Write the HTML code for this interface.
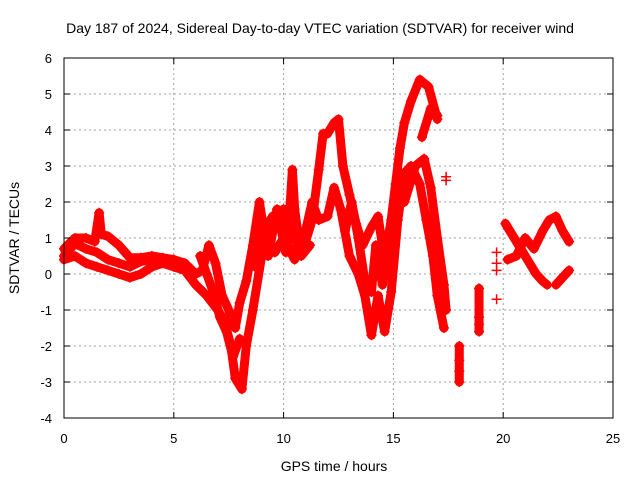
<!DOCTYPE html>
<html><head><meta charset="utf-8"><style>
body{margin:0;background:#fff}
svg{display:block;font-family:"Liberation Sans",sans-serif}
</style></head><body>
<svg id="chart" width="640" height="480" viewBox="0 0 640 480">
<text x="320" y="33" font-size="14" text-anchor="middle">Day 187 of 2024, Sidereal Day-to-day VTEC variation (SDTVAR) for receiver wind</text>
<text x="334" y="471" font-size="14" text-anchor="middle">GPS time / hours</text>
<text x="19" y="238" font-size="14" text-anchor="middle" transform="rotate(-90 19 238)">SDTVAR / TECUs</text>
<g id="grid"></g>
<g id="marks"></g>
<rect x="64" y="58" width="549" height="360" fill="none" stroke="#000" stroke-width="1"/>
<g id="ticks"></g>
</svg>
<script>
const xTicks=[0,5,10,15,20,25];
const yTicks=[-4,-3,-2,-1,0,1,2,3,4,5,6];
const s1=[[0,0.7],[0.5,1.0],[1,1.0],[1.4,0.9],[1.6,1.7],[1.7,1.1],[2,1.05],[2.5,0.8],[3,0.45],[3.5,0.45],[4,0.5],[4.5,0.45],[5,0.4],[5.5,0.3],[6,0.0],[6.3,0.1],[6.6,0.8],[6.9,0.3],[7.2,-0.6],[7.5,-1.0],[7.8,-1.5],[8,-0.8],[8.3,-0.2],[8.6,0.8],[8.9,2.0],[9.1,1.2],[9.5,1.6],[10,1.8],[10.2,1.0],[10.4,2.9],[10.6,0.8],[11,0.9],[11.3,1.5],[11.6,2.9],[11.8,3.9],[12,3.9],[12.3,4.2],[12.5,4.3],[12.7,3.0],[13,2.2],[13.3,1.4],[13.6,0.8],[14,1.3],[14.3,1.6],[14.6,0.4],[14.9,1.5],[15.1,2.5],[15.3,3.5],[15.5,4.2],[15.8,4.8],[16.2,5.4],[16.6,5.2],[17,4.3]];
const s2=[[0,0.4],[0.5,0.5],[1,0.3],[1.5,0.2],[2,0.1],[2.5,0.0],[3,-0.1],[3.5,0.0],[4,0.2],[4.5,0.3],[5,0.2],[5.5,0.1],[6,-0.3],[6.5,-0.6],[7,-1.0],[7.3,-1.3],[7.6,-2.0],[7.8,-2.9],[8.1,-3.2],[8.3,-2.0],[8.6,-1.0],[9,0.5],[9.3,1.0],[9.6,0.6],[10,1.0],[10.5,0.4],[11,1.2],[11.3,2.0],[11.6,1.5],[12,1.6],[12.3,2.4],[12.6,1.8],[13,0.5],[13.4,0.0],[13.7,-0.6],[14,-1.7],[14.3,-0.6],[14.6,-1.6],[14.9,-0.5],[15.2,1.5],[15.5,2.8],[15.8,3.0],[16.2,2.5],[16.5,1.5],[16.8,0.5],[17,-0.6],[17.3,-1.5]];
const s3=[[0,0.5],[0.5,0.85],[1,0.7],[1.5,0.6],[2,0.4],[2.5,0.3],[3,0.2],[3.5,0.35],[4,0.4],[4.5,0.4],[5,0.3]];
const s4=[[15.5,2.0],[16,3.0],[16.4,3.2],[16.7,2.4],[17,1.0],[17.3,-0.3],[17.4,-1.0]];
const s5=[[16.3,3.8],[16.7,4.6],[17,4.4]];
const s6=[[20.1,1.4],[20.5,1.0],[20.9,0.6],[21.2,0.3],[21.5,0.0],[21.8,-0.2],[22.0,-0.3]];
const s7=[[20.2,0.4],[20.6,0.5],[21,1.0],[21.4,0.7],[21.8,1.2],[22.1,1.5],[22.4,1.6],[22.7,1.2],[23,0.9]];
const s8=[[22.4,-0.3],[22.7,-0.1],[23,0.1]];
const s9=[[8.7,0.2],[9,1.5],[9.3,0.5],[9.7,1.8],[10.1,0.6],[10.5,1.8],[10.8,0.5],[11.2,0.8]];
const s10=[[12.8,1.2],[13.1,2.0],[13.4,1.0],[13.7,-0.2],[14,-0.5],[14.2,0.8],[14.5,-0.3],[14.8,0.6]];
const s11=[[6.2,0.5],[6.5,0.0],[6.8,-0.5],[7.1,-1.2],[7.4,-1.6],[7.7,-2.3],[8,-1.8]];
const c1=[[17.4,2.7],[17.4,2.6]];
const c2=[[18.0,-2.0],[18.0,-2.4],[18.0,-2.7],[18.0,-3.0]];
const c3=[[18.9,-0.4],[18.9,-1.2],[18.9,-1.4],[18.9,-1.6]];
const c4=[[19.7,0.6],[19.7,0.3],[19.7,0.1],[19.7,-0.7]];
const lines=[s1,s2,s3,s4,s5,s6,s7,s8,s9,s10,s11,c2,c3];
const points=[s1,s2,s3,s4,s5,s6,s7,s8,s9,s10,s11,c1,c2,c3,c4];
const X=t=>64+t*(549/25), Y=v=>418-(v+4)*36;
const NS='http://www.w3.org/2000/svg';
const grid=document.getElementById('grid'),ticks=document.getElementById('ticks'),marks=document.getElementById('marks');
function el(tag,a,p){const e=document.createElementNS(NS,tag);for(const k in a)e.setAttribute(k,a[k]);p.appendChild(e);return e;}
xTicks.forEach(t=>{const x=X(t);
 if(t>0&&t<25){const g=el('line',{x1:x,y1:58,x2:x,y2:418,stroke:'#a0a0a0','stroke-dasharray':'2,3'},grid);}
 el('line',{x1:x,y1:418,x2:x,y2:412,stroke:'#000'},ticks);el('line',{x1:x,y1:58,x2:x,y2:64,stroke:'#000'},ticks);
 const l=el('text',{x:x,y:443,'font-size':13,'text-anchor':'middle'},ticks);l.textContent=t;
 });
yTicks.forEach(v=>{const y=Y(v);
 if(v>-4&&v<6){const g=el('line',{x1:64,y1:y,x2:613,y2:y,stroke:'#a0a0a0','stroke-dasharray':'2,3'},grid);}
 el('line',{x1:64,y1:y,x2:70,y2:y,stroke:'#000'},ticks);el('line',{x1:613,y1:y,x2:607,y2:y,stroke:'#000'},ticks);
 const l=el('text',{x:52,y:y+5,'font-size':13,'text-anchor':'end'},ticks);l.textContent=v;
 });
lines.forEach(s=>{const p=el('polyline',{points:s.map(d=>X(d[0])+','+Y(d[1])).join(' '),fill:'none',stroke:'#f00','stroke-width':9,'stroke-linejoin':'round','stroke-linecap':'round'},marks);
 });
points.forEach(s=>s.forEach(d=>{const x=X(d[0]),y=Y(d[1]);
 const m=el('path',{d:`M${x-5},${y}H${x+5}M${x},${y-5}V${y+5}`,stroke:'#f00','stroke-width':1.5},marks);
 }));
</script>
</body></html>
